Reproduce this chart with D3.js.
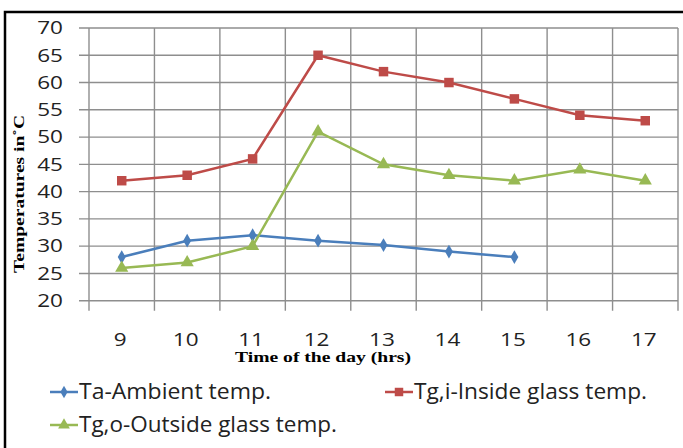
<!DOCTYPE html>
<html><head><meta charset="utf-8">
<script src="https://cdn.jsdelivr.net/npm/d3@7"></script>
<style>body{margin:0;background:#fff}svg{display:block}</style>
</head><body>
<script>
const hours = [9, 10, 11, 12, 13, 14, 15, 16, 17];
const ambient = [28, 31, 32, 31, 30.2, 29, 28];
const insideGlass = [42, 43, 46, 65, 62, 60, 57, 54, 53];
const outsideGlass = [26, 27, 30, 51, 45, 43, 42, 44, 42];
const yTicks = [20, 25, 30, 35, 40, 45, 50, 55, 60, 65, 70];
const seriesNames = ["Ta-Ambient temp.", "Tg,i-Inside glass temp.", "Tg,o-Outside glass temp."];

const W = 683, H = 448;
const svg = d3.select("body").append("svg").attr("width", W).attr("height", H);
svg.append("rect").attr("width", W).attr("height", H).attr("fill", "#fff");
// outer border (top and left visible)
svg.append("path").attr("d", `M5,${H} V12 H${W}`).attr("fill", "none").attr("stroke", "#000").attr("stroke-width", 2.5);

const L = 89, R = 678, T = 28, B = 300.7;
const x = d3.scaleBand().domain(hours).range([L, R]);
const y = d3.scaleLinear().domain([20, 70]).range([B, T]);
const gridCol = "#8e8e8e";

const g = svg.append("g");
g.selectAll(".hg").data(yTicks).join("line")
  .attr("x1", L - 10).attr("x2", R).attr("y1", d => y(d)).attr("y2", d => y(d))
  .attr("stroke", gridCol).attr("stroke-width", 1.4);
const edges = hours.map(h => x(h)).concat([R]);
g.selectAll(".vg").data(edges).join("line")
  .attr("x1", d => d).attr("x2", d => d).attr("y1", T).attr("y2", B + 10)
  .attr("stroke", gridCol).attr("stroke-width", 1.4);

const font = "'Open Sans', sans-serif";
const stretch = 1.25;
function widen(sel, f) {
  sel.each(function () {
    const w = this.getComputedTextLength();
    d3.select(this).attr("textLength", w * f).attr("lengthAdjust", "spacingAndGlyphs");
  });
}
const yl = g.selectAll(".yl").data(yTicks).join("text")
  .attr("x", 63).attr("y", d => y(d)).attr("dy", "0.35em")
  .attr("text-anchor", "end").attr("font-family", font).attr("font-size", 18)
  .attr("fill", "#222").text(d => d);
widen(yl, stretch);
const xl = g.selectAll(".xl").data(hours).join("text")
  .attr("x", d => x(d) + x.bandwidth() / 2 - 1.5).attr("y", 346)
  .attr("text-anchor", "middle").attr("font-family", font).attr("font-size", 18)
  .attr("fill", "#222").text(d => d);
widen(xl, stretch);

svg.append("text").attr("x", 323).attr("y", 362).attr("text-anchor", "middle")
  .attr("font-family", "'Liberation Serif', serif").attr("font-weight", "bold").attr("font-size", 15)
  .attr("textLength", 176).attr("lengthAdjust", "spacingAndGlyphs").text("Time of the day (hrs)");
svg.append("text").attr("transform", "translate(24,194) rotate(-90)").attr("text-anchor", "middle")
  .attr("font-family", "'Liberation Serif', serif").attr("font-weight", "bold").attr("font-size", 15)
  .attr("textLength", 158).attr("lengthAdjust", "spacingAndGlyphs").text("Temperatures  in˚C");

const colors = ["#4A7EBB", "#BE4B48", "#98B954"];
const datasets = [ambient, insideGlass, outsideGlass];
const line = d3.line().x((d, i) => x(hours[i]) + x.bandwidth() / 2).y(d => y(d));
const sym = [d3.symbolDiamond, d3.symbolSquare, d3.symbolTriangle];
const symSize = [55, 90, 75];

datasets.forEach((data, k) => {
  svg.append("path").datum(data).attr("d", line).attr("fill", "none")
    .attr("stroke", colors[k]).attr("stroke-width", 2.5);
  svg.selectAll(".m" + k).data(data).join("path")
    .attr("transform", (d, i) => `translate(${x(hours[i]) + x.bandwidth() / 2},${y(d)})`)
    .attr("d", d3.symbol().type(sym[k]).size(symSize[k]))
    .attr("fill", colors[k]);
});

const legPos = [[50, 392], [385, 392], [50, 425]];
const legLen = [192, 233, 258];
seriesNames.forEach((name, k) => {
  const [lx, ly] = legPos[k];
  svg.append("line").attr("x1", lx).attr("x2", lx + 28).attr("y1", ly).attr("y2", ly)
    .attr("stroke", colors[k]).attr("stroke-width", 2.5);
  svg.append("path").attr("transform", `translate(${lx + 14},${ly})`)
    .attr("d", d3.symbol().type(sym[k]).size(symSize[k] * 0.8)).attr("fill", colors[k]);
  svg.append("text").attr("x", lx + 29).attr("y", ly + 7).attr("font-family", font)
    .attr("font-size", 21).attr("fill", "#222")
    .attr("textLength", legLen[k]).attr("lengthAdjust", "spacingAndGlyphs").text(name);
});
</script>
</body></html>
